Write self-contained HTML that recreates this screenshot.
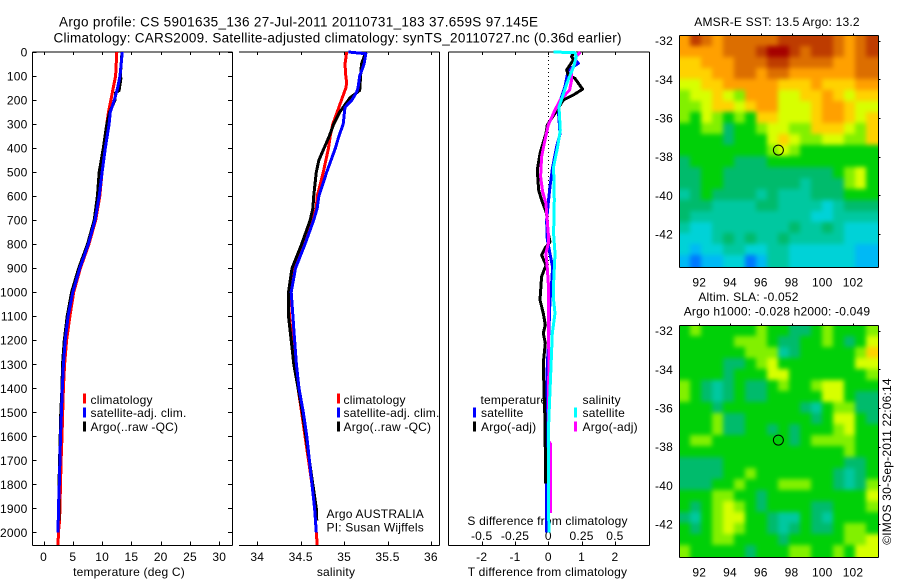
<!DOCTYPE html>
<html>
<head>
<meta charset="utf-8">
<title>Argo profile</title>
<style>
html,body{margin:0;padding:0;background:#fff;width:900px;height:580px;overflow:hidden}
svg{display:block}
text{font-family:"Liberation Sans",sans-serif;font-size:12px;letter-spacing:.2px;fill:#000;dominant-baseline:central}
.t{font-size:13.5px;letter-spacing:0}
</style>
</head>
<body>
<svg id="c" width="900" height="580" viewBox="0 0 900 580" xmlns="http://www.w3.org/2000/svg">
<defs>
<filter id="mapSmooth" filterUnits="userSpaceOnUse" x="640" y="0" width="260" height="580" color-interpolation-filters="sRGB"><feGaussianBlur stdDeviation="2.4"/></filter>
</defs>
<text class="t" x="59" y="22" textLength="479">Argo profile: CS 5901635_136 27-Jul-2011 20110731_183 37.659S 97.145E</text>
<text class="t" x="53.5" y="38" textLength="568">Climatology: CARS2009. Satellite-adjusted climatology: synTS_20110727.nc (0.36d earlier)</text>
<text x="129" y="572" text-anchor="middle">temperature (deg C)</text>
<text x="336" y="572" text-anchor="middle">salinity</text>
<text x="547.5" y="572" text-anchor="middle">T difference from climatology</text>
<text x="547.5" y="521" text-anchor="middle">S difference from climatology</text>
<text x="777" y="22" text-anchor="middle">AMSR-E SST: 13.5 Argo: 13.2</text>
<text x="748.5" y="297" text-anchor="middle">Altim. SLA: -0.052</text>
<text x="777" y="311.5" text-anchor="middle">Argo h1000: -0.028 h2000: -0.049</text>
<text transform="translate(887,461.5) rotate(-90)" text-anchor="middle">©IMOS 30-Sep-2011 22:06:14</text>
<text x="90.5" y="400">climatology</text>
<text x="90.5" y="413">satellite-adj. clim.</text>
<text x="90.5" y="427">Argo(..raw -QC)</text>
<text x="343.5" y="400">climatology</text>
<text x="343.5" y="413">satellite-adj. clim.</text>
<text x="343.5" y="427">Argo(..raw -QC)</text>
<text x="326.5" y="514">Argo AUSTRALIA</text>
<text x="326.5" y="527.5">PI: Susan Wijffels</text>
<text x="480.5" y="400">temperature</text>
<text x="481" y="413">satellite</text>
<text x="481" y="427">Argo(-adj)</text>
<text x="582.5" y="400">salinity</text>
<text x="582.5" y="413">satellite</text>
<text x="582.5" y="427">Argo(-adj)</text>
</svg>
<script>
// ---------- profile data (depth in m, T in deg C, S in psu) ----------
const depthTicks = [0,100,200,300,400,500,600,700,800,900,1000,1100,1200,1300,1400,1500,1600,1700,1800,1900,2000];
const tempTicks = [0,5,10,15,20,25,30];
const salTicks = [34,34.5,35,35.5,36];
const salTickLabels = ["34","34.5","35","35.5","36"];
const tDiffTicks = [-2,-1,0,1,2];
const sDiffTicks = [-0.5,-0.25,0,0.25,0.5];
const sDiffTickLabels = ["-0.5","-0.25","0","0.25","0.5"];

const tClimDepth = [0,100,150,200,250,300,400,500,600,700,800,900,1000,1100,1200,1300,1400,1600,1700,1800,1900,1950,2000,2052];
const tClimValue = [12.5,12.3,11.9,11.5,11.1,10.8,10.4,10,9.6,8.9,7.75,6.3,5.15,4.5,3.95,3.6,3.4,3.15,3.0,2.9,2.8,2.75,2.55,2.5];
const tSatDepth = [0,100,150,200,250,300,400,500,600,700,800,900,1000,1100,1200,1300,1400,1500,1600,1700,1800,1900,2000];
const tSatValue = [13.45,13.05,12.65,12.1,11.4,11.2,10.55,10,9.5,8.8,7.65,6.2,5.0,4.2,3.7,3.4,3.2,3.05,2.9,2.8,2.7,2.55,2.5];
const tArgoDepth = [0,100,110,160,170,200,250,300,400,500,600,700,800,900,1000,1100,1200,1300,1400,1500,1600,1700,1800,1900,1950];
const tArgoValue = [13.4,13.1,13.2,12.9,12.3,12.2,11.3,10.8,10.2,9.5,9.2,8.65,7.5,6.0,4.8,4.05,3.55,3.25,3.15,2.95,2.85,2.75,2.65,2.65,2.65];

const sClimDepth = [0,50,100,130,150,200,250,300,350,400,500,600,650,700,800,900,1000,1100,1200,1300,1400,1500,1600,1700,1800,1900,2000,2052];
const sClimValue = [35.03,35.01,35.02,35.03,35.02,34.97,34.92,34.87,34.84,34.82,34.76,34.69,34.68,34.63,34.53,34.41,34.36,34.37,34.4,34.43,34.47,34.51,34.55,34.59,34.63,34.66,34.68,34.69];
const sSatDepth = [0,7,50,100,150,170,200,230,300,350,400,500,600,650,700,800,900,1000,1100,1200,1300,1400,1500,1600,1700,1800,1900,2000];
const sSatValue = [35.05,35.25,35.23,35.18,35.16,35.14,35.09,35.01,34.99,34.94,34.9,34.8,34.71,34.69,34.65,34.55,34.44,34.39,34.41,34.43,34.45,34.48,34.53,34.57,34.6,34.63,34.66,34.68];
const sArgoDepth = [0,50,100,160,190,225,250,300,350,400,450,500,600,650,700,800,900,1000,1100,1200,1300,1500,1900,1950];
const sArgoValue = [35.25,35.2,35.19,35.18,35.07,35.0,34.95,34.88,34.83,34.77,34.71,34.68,34.65,34.64,34.61,34.51,34.4,34.36,34.36,34.39,34.42,34.52,34.68,34.685];

const dtSatDepth = [0,20,47,75,110,145,200,240,340,395,480,560,615,700,780,840,895,965,1032,1232,1300,1500,1832,2000];
const dtSatValue = [0.75,0.7,0.9,0.6,0.55,0.5,0.37,0.3,0.35,0.25,0.13,0.05,0.01,-0.05,-0.03,0.05,0.13,0.1,0.05,0,-0.03,-0.05,-0.05,-0.05];
const dtArgoDepth = [0,19,33,75,96,110,155,179,200,255,304,338,422,491,574,616,672,755,790,817,845,887,935,1032,1088,1136,1171,1212,1296,1407,1532,1796];
const dtArgoValue = [0.8,0.7,0.75,0.55,0.6,0.8,1.03,0.75,0.45,0.2,-0.03,-0.07,-0.25,-0.33,-0.29,-0.2,-0.05,0,0.05,-0.1,-0.2,-0.07,-0.2,-0.25,-0.15,-0.09,-0.15,-0.09,-0.15,-0.13,-0.1,-0.08];
const dsSatDepth = [0,3,19,61,130,228,325,395,478,617,756,839,964,1032,1088,1171,1310,1450,1587,1865,2000];
const dsSatValue = [0.04,0.2,0.21,0.19,0.14,0.08,0.09,0.07,0.04,0.045,0.04,0.05,0.04,0.04,0.05,0.03,0.02,0.01,0,0,0.005];
const dsArgoDepth = [0,19,47,75,117,158,200,241,304,366,436,519,581,630,700,755,797,838,894,963,1032,1100,1310,1420,1620,1630,1920];
const dsArgoValue = [0.24,0.21,0.2,0.175,0.175,0.16,0.09,0.05,0,-0.025,-0.05,-0.058,-0.043,-0.018,-0.008,0,0,-0.018,-0.008,0,0,0,0.005,0,0,0.015,0.015];

// ---------- map data (colour level per cell, west to east, north to south) ----------
const mapLonTicks = [92,94,96,98,100,102];
const mapLatTicks = [-32,-34,-36,-38,-40,-42];
const sstLevels = [
[9,11,10,9,10,10,10,10,10,11,11,11,11,11,10,9,10,11],
[9,9,9,9,10,10,10,11,12,12,11,10,11,11,10,9,10,11],
[8,8,9,9,9,10,10,10,11,11,10,10,10,10,9,9,10,10],
[8,8,8,9,9,10,10,9,10,10,9,9,9,9,9,9,10,10],
[7,7,8,8,9,9,9,9,9,8,8,8,9,8,8,8,9,9],
[6,7,7,8,7,6,9,9,9,7,7,8,8,9,8,7,8,8],
[6,6,7,8,8,7,8,9,9,7,7,7,8,9,9,8,7,7],
[6,5,7,6,5,6,5,8,8,7,7,7,8,9,9,8,7,8],
[5,5,6,6,4,5,5,6,7,7,6,6,8,8,8,7,6,8],
[5,5,5,5,4,5,5,5,7,8,7,6,6,7,7,6,6,8],
[5,5,5,5,5,5,5,5,6,7,6,5,5,5,5,5,5,5],
[4,5,5,5,5,4,4,4,5,5,5,5,5,5,5,5,5,5],
[4,4,5,5,4,4,4,4,4,4,4,4,4,4,5,6,7,5],
[4,4,5,5,4,4,4,4,4,4,4,3,4,4,4,6,7,5],
[3,4,5,4,4,4,4,3,4,3,3,3,4,4,4,5,5,5],
[4,4,4,3,3,3,3,4,4,3,3,3,3,2,3,4,4,4],
[4,3,3,3,3,3,3,3,3,3,3,3,2,2,3,3,3,3],
[3,2,2,3,3,3,3,3,3,3,4,3,3,4,3,2,2,2],
[2,2,2,3,4,3,4,3,3,4,3,3,3,3,3,2,2,2],
[2,1,2,2,3,3,2,2,3,3,2,2,2,2,2,2,1,1],
[1,0,1,1,2,2,0,1,3,3,2,2,2,2,2,2,1,1]
];
const slaLevels = [
[5,6,5,5,5,5,5,6,5,5,4,4,5,6,5,5,5,6],
[5,5,5,5,5,6,6,6,5,4,4,5,5,6,5,4,5,7],
[5,5,5,5,5,5,6,6,6,3,4,5,5,5,5,5,6,8],
[5,5,5,5,4,4,5,6,7,5,5,5,5,5,5,5,7,7],
[5,5,5,5,4,5,5,5,7,7,5,5,5,5,5,5,5,6],
[6,5,4,3,4,5,4,4,5,6,5,5,6,7,7,5,5,5],
[6,5,4,3,4,5,4,4,5,5,5,5,5,7,7,5,4,4],
[5,5,5,4,5,5,5,5,5,5,5,4,3,5,6,6,4,4],
[5,5,5,6,4,4,5,5,5,5,5,5,4,5,7,7,5,4],
[5,5,5,6,4,4,5,5,4,5,4,5,5,5,6,7,5,5],
[5,6,6,5,5,5,5,5,5,5,4,5,6,6,6,6,5,5],
[5,5,5,5,5,5,5,5,5,5,5,5,5,5,5,6,5,5],
[4,4,4,4,5,5,5,5,5,5,5,5,5,5,5,4,4,5],
[4,4,4,4,5,5,6,5,5,5,5,5,5,5,4,3,4,5],
[4,4,4,5,5,6,5,5,5,6,6,6,5,5,4,3,4,6],
[5,5,5,6,6,5,5,4,5,5,5,5,5,5,5,5,5,7],
[5,4,5,6,7,6,5,4,5,5,5,5,4,4,5,5,5,6],
[4,3,5,6,7,7,5,5,4,3,3,5,4,3,5,5,5,5],
[5,4,5,6,7,6,5,5,4,3,4,5,4,4,5,6,6,5],
[5,5,5,6,6,5,5,5,5,4,5,5,5,5,5,6,6,7],
[6,5,5,5,5,5,4,5,5,5,6,6,5,5,6,5,7,7]
];
const profileLon = 97.145;
const profileLat = -37.659;

// ---------- axis functions ----------
const NS = 'http://www.w3.org/2000/svg';
const svg = document.getElementById('c');
const depthY = d => 52 + 0.2402 * d;
const tempX = v => 43.5 + 5.86 * v;
const salX = v => 257.3 + 86.8 * (v - 34);
const dtX = v => 548.3 + 33.3 * v;
const dsX = v => 548.3 + 133.2 * v;
const lonX = v => 699.3 + 15.37 * (v - 92);
const LON_MIN = 90.7, LON_MAX = 103.58;
const LAT_TOP = -31.72, LAT_BOT = -43.67;
const sstLatY = v => 40.7 + 19.33 * (-32 - v);
const slaLatY = v => 330.7 + 19.33 * (-32 - v);

function node(tag, attrs, parent) {
  const el = document.createElementNS(NS, tag);
  for (const k in attrs) el.setAttribute(k, attrs[k]);
  (parent || svg).appendChild(el);
  return el;
}
function label(txt, x, y, anchor, nm) {
  const el = node('text', {x: x, y: y, 'text-anchor': anchor});
  el.textContent = txt;
  
  
}
function seg(x1, y1, x2, y2, nm) {
  const el = node('line', {x1: x1, y1: y1, x2: x2, y2: y2, stroke: '#000', 'stroke-width': 1, 'shape-rendering': 'crispEdges'});
  
  
}
function profile(depths, vals, xf, color, nm, width) {
  const pts = depths.map((d, i) => xf(vals[i]).toFixed(1) + ',' + depthY(d).toFixed(1)).join(' ');
  const el = node('polyline', {points: pts, fill: 'none', stroke: color, 'stroke-width': width || 3, 'stroke-linejoin': 'round', 'shape-rendering': 'crispEdges'});
  
  
}
function legendMark(x, y, color, nm) {
  const el = node('rect', {x: x, y: y - 5, width: 3, height: 10, fill: color, 'shape-rendering': 'crispEdges'});
  
  
}

// ---------- profile axes ----------
const TOP = 52, BOT = 545.5;
seg(32.5, TOP, 32.5, BOT, 'temperature-panel-left-axis');
seg(232.5, TOP, 232.5, BOT, 'temperature-panel-right-axis');
seg(32.5, TOP, 232.5, TOP, 'temperature-panel-top-axis');
seg(32.5, BOT, 232.5, BOT, 'temperature-panel-bottom-axis');
seg(239, TOP, 439.5, TOP, 'salinity-panel-top-axis');
seg(239, BOT, 439.5, BOT, 'salinity-panel-bottom-axis');
seg(439.5, TOP, 439.5, BOT, 'salinity-panel-right-axis');
seg(448.5, TOP, 649.5, TOP, 'difference-panel-top-axis');
seg(448.5, BOT, 649.5, BOT, 'difference-panel-bottom-axis');
seg(448.5, TOP, 448.5, BOT, 'difference-panel-left-axis');
seg(649.5, TOP, 649.5, BOT, 'difference-panel-right-axis');

depthTicks.forEach(d => {
  const y = Math.round(depthY(d)) + 0.5;
  seg(32.5, y, 36.5, y, 'depth-tick-left');
  seg(228, y, 232.5, y, 'depth-tick-right');
  label(String(d), 27.5, depthY(d) + 0.5, 'end', 'depth-tick-label');
});
tempTicks.forEach(v => {
  const x = Math.round(tempX(v)) + 0.5;
  seg(x, TOP, x, TOP + 3, 'temperature-tick-top');
  seg(x, BOT - 4, x, BOT, 'temperature-tick-bottom');
  label(String(v), tempX(v), 557, 'middle', 'temperature-tick-label');
});
salTicks.forEach((v, i) => {
  const x = Math.round(salX(v)) + 0.5;
  seg(x, TOP, x, TOP + 3, 'salinity-tick-top');
  seg(x, BOT - 4, x, BOT, 'salinity-tick-bottom');
  label(salTickLabels[i], salX(v), 557, 'middle', 'salinity-tick-label');
});
tDiffTicks.forEach(v => {
  const x = Math.round(dtX(v)) + 0.5;
  seg(x, TOP, x, TOP + 3, 'difference-tick-top');
  seg(x, BOT - 4, x, BOT, 'difference-tick-bottom');
  label(String(v), dtX(v), 557, 'middle', 't-difference-tick-label');
});
sDiffTicks.forEach((v, i) => {
  label(sDiffTickLabels[i], dsX(v), 536, 'middle', 's-difference-tick-label');
});

const zeroLine = node('line', {x1: dtX(0), y1: TOP, x2: dtX(0), y2: BOT - 150, stroke: '#000', 'stroke-width': 1, 'stroke-dasharray': '1 3', 'shape-rendering': 'crispEdges'});



// ---------- profiles ----------
profile(tClimDepth, tClimValue, tempX, '#ff0000', 'temperature-climatology-line');
profile(tArgoDepth, tArgoValue, tempX, '#000000', 'temperature-argo-line');
profile(tSatDepth, tSatValue, tempX, '#0000ff', 'temperature-satellite-line');
profile(sClimDepth, sClimValue, salX, '#ff0000', 'salinity-climatology-line');
profile(sArgoDepth, sArgoValue, salX, '#000000', 'salinity-argo-line');
profile(sSatDepth, sSatValue, salX, '#0000ff', 'salinity-satellite-line');
profile(dtSatDepth, dtSatValue, dtX, '#0000ff', 'difference-t-satellite-line');
profile(dtArgoDepth, dtArgoValue, dtX, '#000000', 'difference-t-argo-line');
profile(dsArgoDepth, dsArgoValue, dsX, '#ff00ff', 'difference-s-argo-line');
profile(dsSatDepth, dsSatValue, dsX, '#00ffff', 'difference-s-satellite-line');

legendMark(83, 398.5, '#ff0000', 'legend-climatology-mark');
legendMark(83, 412.5, '#0000ff', 'legend-satellite-mark');
legendMark(83, 426.5, '#000000', 'legend-argo-mark');
legendMark(337, 398.5, '#ff0000', 'salinity-legend-climatology-mark');
legendMark(337, 412.5, '#0000ff', 'salinity-legend-satellite-mark');
legendMark(337, 426.5, '#000000', 'salinity-legend-argo-mark');
legendMark(473, 412.5, '#0000ff', 'diff-legend-t-satellite-mark');
legendMark(473, 426.5, '#000000', 'diff-legend-t-argo-mark');
legendMark(574, 412.5, '#00ffff', 'diff-legend-s-satellite-mark');
legendMark(574, 426.5, '#ff00ff', 'diff-legend-s-argo-mark');

// ---------- maps ----------
const levelColors = ['#0078ff','#00b9f5','#00d2d7','#00c8a0','#00bb6c','#00d008','#82f000','#d7ff00','#ffd200','#ffa000','#dc6e00','#be3c00','#a50000'];

function drawMap(levels, latY, prefix) {
  const rows = levels.length, cols = levels[0].length;
  const dLon = (LON_MAX - LON_MIN) / cols, dLat = (LAT_TOP - LAT_BOT) / rows;
  const L = lonX(LON_MIN) - 0.5, R = lonX(LON_MAX) + 0.5, T = latY(LAT_TOP) - 0.5, B = latY(LAT_BOT) + 0.5;
  const lx = Math.round(L) + 0.5, rx = Math.round(R) + 0.5, ty = Math.round(T) + 0.5, by = Math.round(B) + 0.5;

  const clip = node('clipPath', {id: prefix + '-clip'});
  node('rect', {x: lx, y: ty, width: rx - lx, height: by - ty}, clip);
  const outer = node('g', {'clip-path': 'url(#' + prefix + '-clip)'});
  
  
  const inner = node('g', {filter: 'url(#mapSmooth)'}, outer);

  levels.forEach((row, j) => {
    row.forEach((v, i) => {
      let x0 = Math.round(lonX(LON_MIN + i * dLon)), x1 = Math.round(lonX(LON_MIN + (i + 1) * dLon));
      let y0 = Math.round(latY(LAT_TOP - j * dLat)), y1 = Math.round(latY(LAT_TOP - (j + 1) * dLat));
      if (i === 0) x0 -= 15;
      if (i === cols - 1) x1 += 15;
      if (j === 0) y0 -= 15;
      if (j === rows - 1) y1 += 15;
      const cell = node('rect', {x: x0, y: y0, width: x1 - x0, height: y1 - y0, fill: levelColors[v], 'shape-rendering': 'crispEdges'}, inner);
      
      
    });
  });
  seg(lx, ty, rx, ty, prefix + '-top-axis');
  seg(lx, by, rx, by, prefix + '-bottom-axis');
  seg(lx, ty, lx, by, prefix + '-left-axis');
  seg(rx, ty, rx, by, prefix + '-right-axis');
  mapLonTicks.forEach(v => {
    const x = Math.round(lonX(v)) + 0.5;
    seg(x, ty - 2, x, ty, prefix + '-lon-tick');
    label(String(v), lonX(v), by + 15, 'middle', prefix + '-lon-label');
  });
  mapLatTicks.forEach(v => {
    const y = Math.round(latY(v)) + 0.5;
    seg(rx, y, rx + 2, y, prefix + '-lat-tick');
    label(String(v), 673, latY(v) + 0.5, 'end', prefix + '-lat-label');
  });
  const mark = node('circle', {cx: lonX(profileLon), cy: latY(profileLat), r: 5, fill: 'none', stroke: '#000', 'stroke-width': 1});
  
  
}
drawMap(sstLevels, sstLatY, 'sst-map');
drawMap(slaLevels, slaLatY, 'sla-map');
</script>
</body>
</html>
